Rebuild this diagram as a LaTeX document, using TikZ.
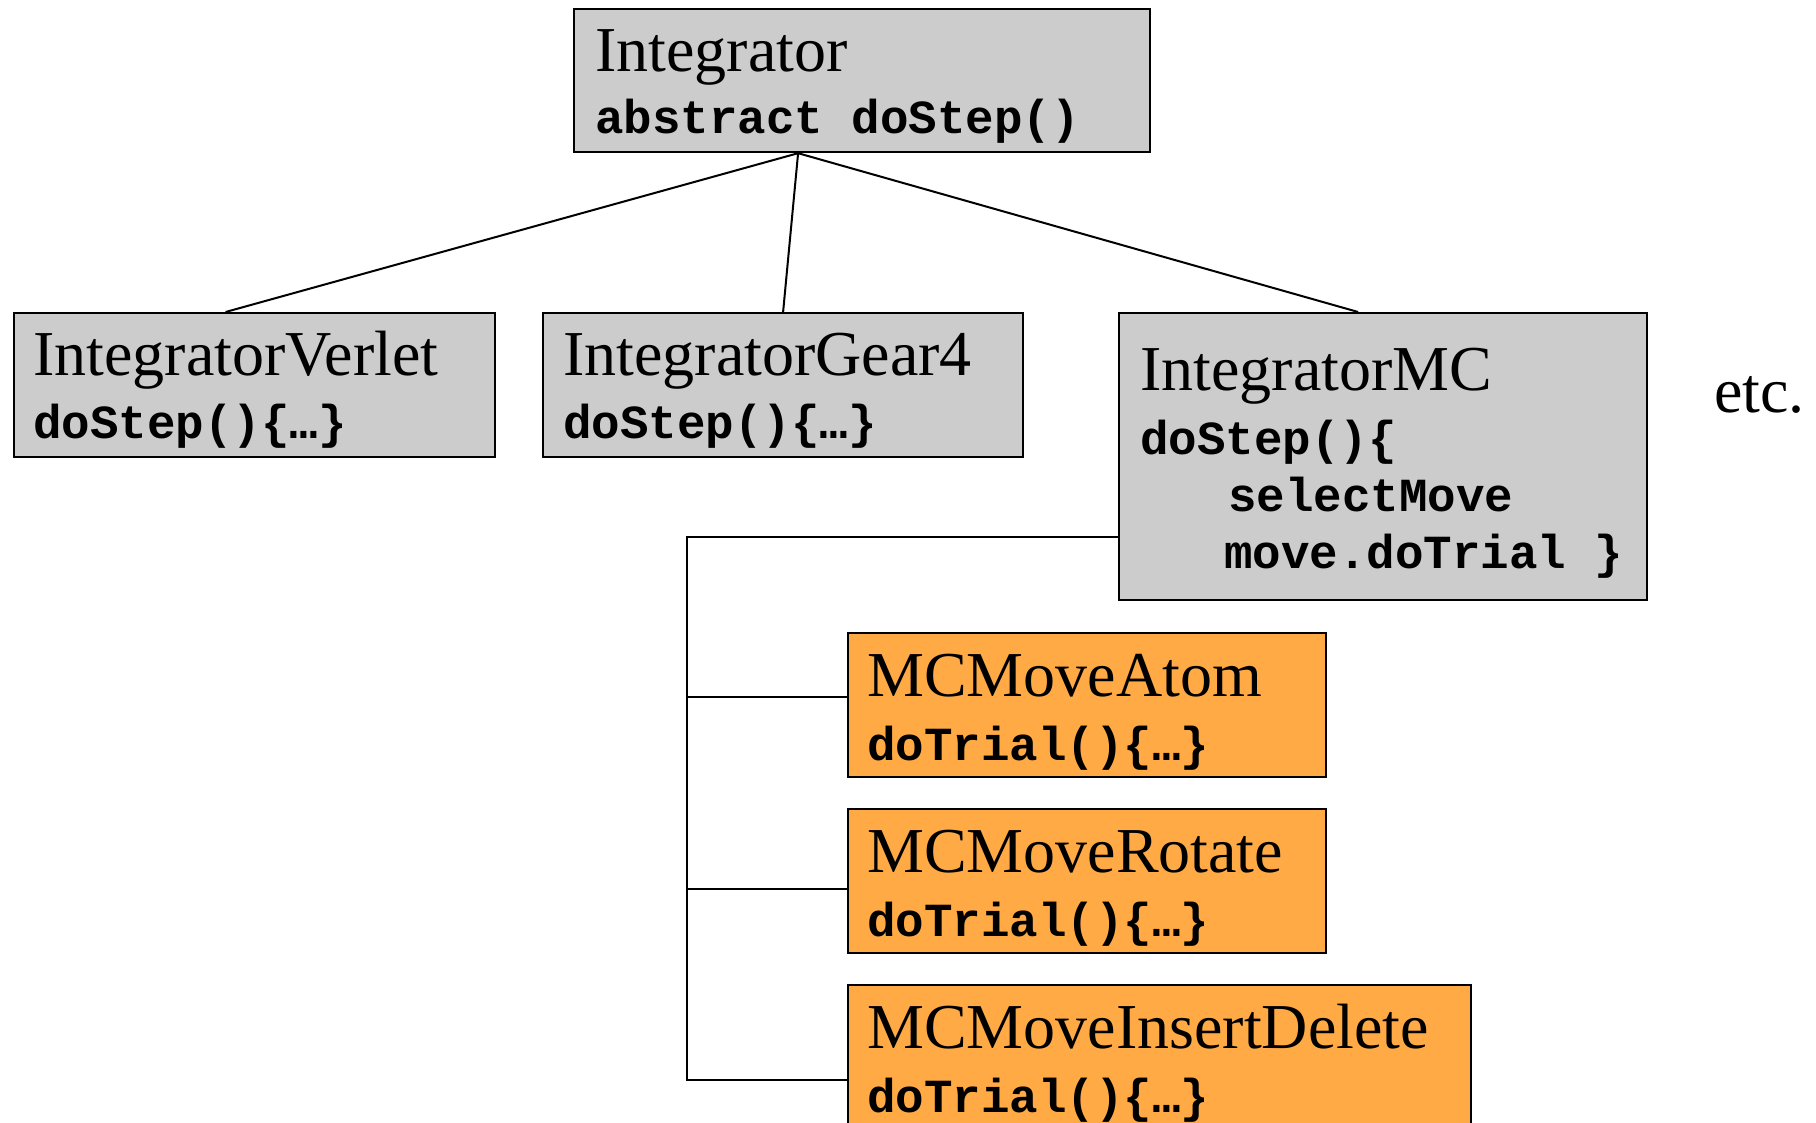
\documentclass[tikz,border=0pt]{standalone}
\usepackage{fontspec}
\setmainfont{Liberation Serif}
\setmonofont{Liberation Mono}
\definecolor{classgray}{HTML}{CCCCCC}
\definecolor{moveorange}{HTML}{FFAA44}
\tikzset{
  classbox/.style={draw=black, line width=2.2pt, inner sep=0pt, anchor=north west},
  graybox/.style={classbox, fill=classgray},
  orangebox/.style={classbox, fill=moveorange},
  classname/.style={font=\fontsize{64}{64}\selectfont, anchor=base west, inner sep=0pt},
  classcode/.style={font=\fontsize{47.5}{57}\selectfont\ttfamily\bfseries, anchor=base west, inner sep=0pt},
  link/.style={draw=black, line width=2pt},
}
\begin{document}
\begin{tikzpicture}[x=1pt, y=-1pt]
\useasboundingbox (0,0) rectangle (1816,1123);
\clip (0,0) rectangle (1816,1123);

% class boxes
\node[graybox, minimum width=576, minimum height=143] (integ) at (573,8) {};
\node[graybox, minimum width=481, minimum height=144] (verlet) at (13,312) {};
\node[graybox, minimum width=480, minimum height=144] (gear) at (542,312) {};
\node[graybox, minimum width=528, minimum height=287] (mc) at (1118,312) {};
\node[orangebox, minimum width=478, minimum height=144] (atom) at (847,632) {};
\node[orangebox, minimum width=478, minimum height=144] (rotate) at (847,808) {};
\node[orangebox, minimum width=623, minimum height=190] (insdel) at (847,984) {};

% class names and methods
\node[classname] (integ-n) at ([xshift=22,yshift=-64]integ.north west) {Integrator};
\node[classcode] (integ-c) at ([xshift=22,yshift=-126]integ.north west) {abstract doStep()};

\node[classname] (verlet-n) at ([xshift=20,yshift=-63]verlet.north west) {IntegratorVerlet};
\node[classcode] (verlet-c) at ([xshift=20,yshift=-126]verlet.north west) {doStep()\{…\}};

\node[classname] (gear-n) at ([xshift=21,yshift=-63]gear.north west) {IntegratorGear4};
\node[classcode] (gear-c) at ([xshift=21,yshift=-126]gear.north west) {doStep()\{…\}};

\node[classname] (mc-n) at ([xshift=22,yshift=-79]mc.north west) {IntegratorMC};
\node[classcode] (mc-c1) at ([xshift=22,yshift=-142]mc.north west) {doStep()\{};
\node[classcode] (mc-c2) at ([xshift=110,yshift=-199]mc.north west) {selectMove};
\node[classcode] (mc-c3) at ([xshift=106,yshift=-256]mc.north west) {move.doTrial \}};

\node[classname] (etc) at (1714,412) {etc.};

\node[classname] (atom-n) at ([xshift=20,yshift=-64]atom.north west) {MCMoveAtom};
\node[classcode] (atom-c) at ([xshift=20,yshift=-128]atom.north west) {doTrial()\{…\}};

\node[classname] (rotate-n) at ([xshift=20,yshift=-64]rotate.north west) {MCMoveRotate};
\node[classcode] (rotate-c) at ([xshift=20,yshift=-128]rotate.north west) {doTrial()\{…\}};

\node[classname] (insdel-n) at ([xshift=20,yshift=-64]insdel.north west) {MCMoveInsertDelete};
\node[classcode] (insdel-c) at ([xshift=20,yshift=-128]insdel.north west) {doTrial()\{…\}};

% inheritance lines from the abstract integrator
\coordinate (hub) at ([xshift=-64]integ.south);
\draw[link] (hub) -- ([xshift=-29]verlet.north);
\draw[link] (hub) -- (gear.north);
\draw[link] (hub) -- ([xshift=-25]mc.north);

% moves used by the Monte Carlo integrator
\draw[link] ([yshift=-80.5]mc.west) -| ([xshift=-160]insdel.west) -- (insdel.west);
\draw[link] ([xshift=-160,yshift=8]atom.west) -- ([yshift=8]atom.west);
\draw[link] ([xshift=-160,yshift=-8]rotate.west) -- ([yshift=-8]rotate.west);
\end{tikzpicture}
\end{document}
